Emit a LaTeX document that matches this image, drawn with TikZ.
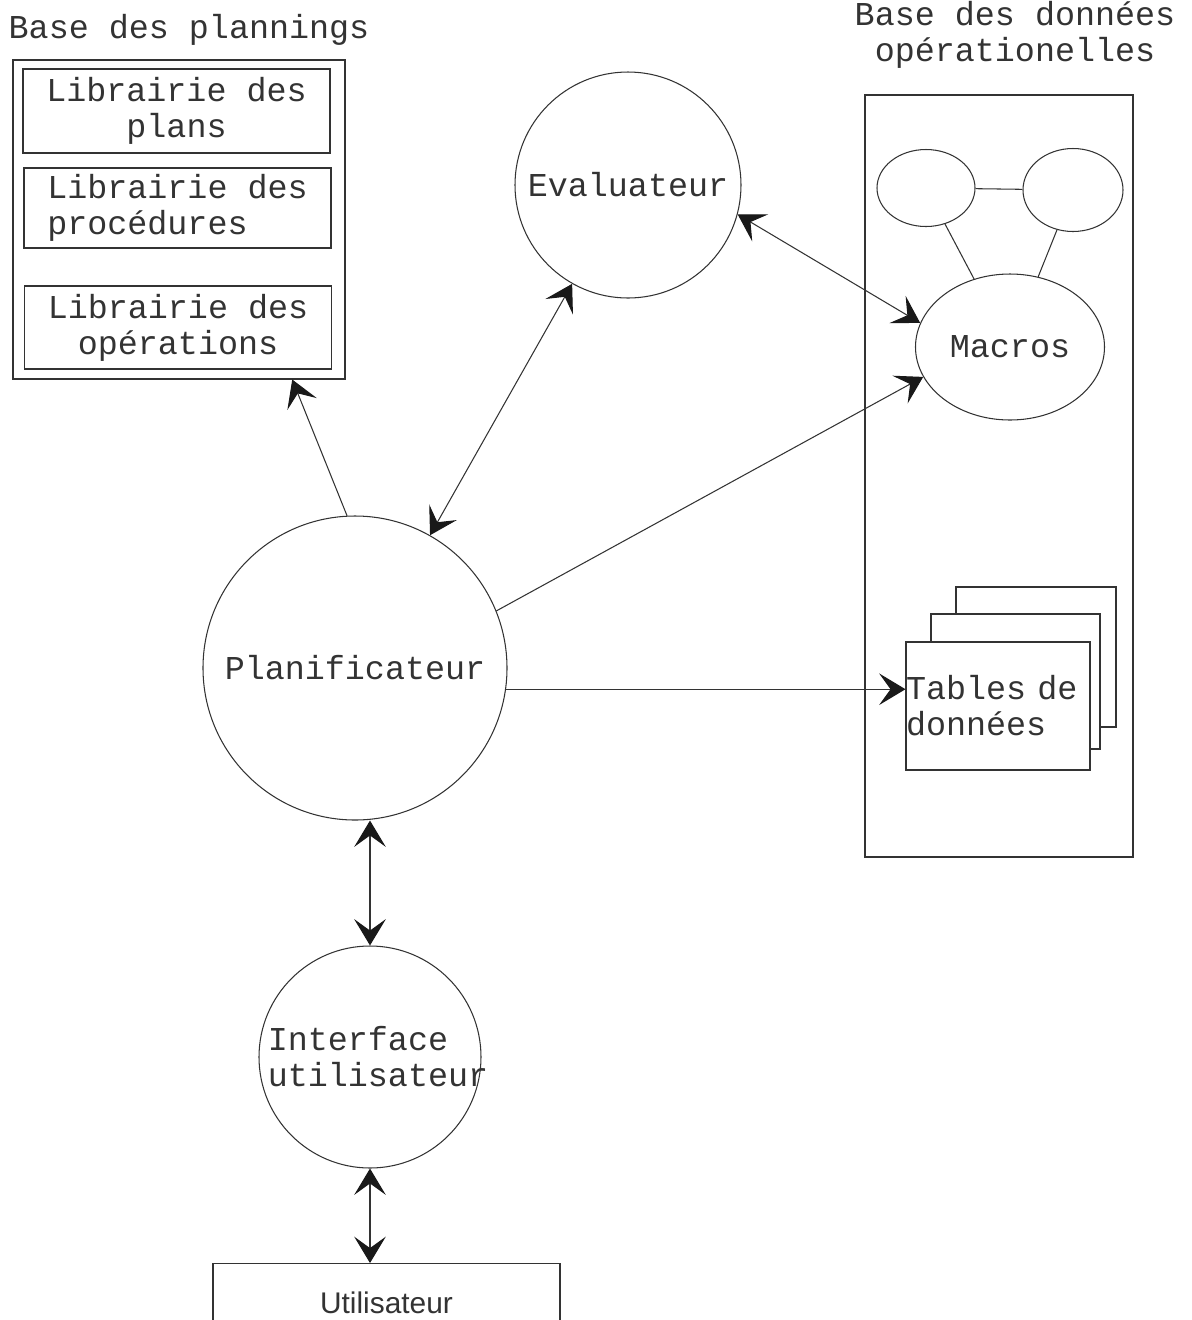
\documentclass[tikz,border=0pt]{standalone}
\usepackage{fontspec}
\setmonofont{Liberation Mono}
\setsansfont{Liberation Sans}
\usetikzlibrary{positioning,arrows.meta,shapes.geometric,calc}
\newlength{\unitpx}
\setlength{\unitpx}{0.02cm}
\tikzset{
   mono/.style={font=\ttfamily\fontsize{19}{20.5}\selectfont},
   lib box/.style={draw, rectangle, mono, minimum width=307\unitpx, inner sep=0pt},
   proc/.style={draw, circle, inner sep=0pt},
   store/.style={draw, ellipse, inner sep=0pt},
   sheet/.style={draw, rectangle, fill=white, inner sep=0pt}
}

\begin{document}
\begin{tikzpicture}[x=0.02cm, y=-0.02cm, line width=0.6pt, color=black!80,
    >={Stealth[length=15pt,width=18pt,inset=6.5pt,color=black!90]}]
    \useasboundingbox (0,0) rectangle (1192,1320);

    % Base des plannings with its three libraries
    \node[mono] (titplan) at (189,30) {Base des plannings};
    \node[draw, minimum width=332\unitpx, minimum height=319\unitpx, inner sep=0pt] (plannings) at (179,219.5) {};
    \node[lib box, minimum height=84\unitpx, align=center] (plans) at (176.5,111) {Librairie des\\plans};
    \node[lib box, minimum height=80\unitpx, align=left] (procs) at (177.5,208) {Librairie des\\procédures};
    \node[lib box, minimum height=83\unitpx, align=center] (ops) at (178,327.5) {Librairie des\\opérations};

    % Base des donnees operationelles: objects, macros and stacked tables
    \node[mono, align=center] (titdata) at (1015,35) {Base des données\\opérationelles};
    \node[draw, minimum width=268\unitpx, minimum height=762\unitpx, inner sep=0pt] (database) at (999,476) {};
    \node[store, minimum width=98\unitpx, minimum height=77\unitpx] (objA) at (926,188) {};
    \node[store, minimum width=100\unitpx, minimum height=83\unitpx] (objB) at (1073,190) {};
    \node[store, mono, minimum width=189\unitpx, minimum height=146\unitpx] (macros) at (1010,347) {Macros};
    \node[sheet, minimum width=160\unitpx, minimum height=140\unitpx] (tab3) at (1036,657) {};
    \node[sheet, minimum width=169\unitpx, minimum height=135\unitpx] (tab2) at (1015.5,681.5) {};
    \node[sheet, mono, text width=184\unitpx, minimum height=128\unitpx, align=left] (tab1) at (998,706) {Tables de\\données};

    % Processes
    \node[proc, minimum size=226\unitpx, label={[mono]center:Evaluateur}] (eval) at (628,185) {};
    \node[proc, mono, minimum size=304\unitpx] (planif) at (355,668) {Planificateur};
    \node[proc, minimum size=222\unitpx, label={[mono, align=left, xshift=8\unitpx]center:Interface\\utilisateur}] (interf) at (370,1057) {};

    % User box, cut by the lower edge
    \node[draw, font=\sffamily\fontsize{17}{20}\selectfont, anchor=north, minimum width=347\unitpx,
          inner ysep=0pt, text height=28.5pt, text depth=40pt] (user) at (386.5,1263) {Utilisateur};

    % Links inside the database
    \draw (objA) -- (objB);
    \draw (objA) -- (macros);
    \draw (objB) -- (macros);

    % Flows
    \draw[->] (planif.93) -- ($(plannings.south west)!.84!(plannings.south east)$);
    \draw[<->] (eval) -- (planif);
    \draw[<->] (eval.-15) -- (macros.165);
    \draw[->] (planif.22) -- (macros.199);
    \draw[->] (planif.-8) -- (planif.-8 -| tab1.west);
    \draw[<->] (planif.south -| interf.north) -- (interf.north);
    \draw[<->] (interf.south) -- (interf.south |- user.north);
\end{tikzpicture}
\end{document}
